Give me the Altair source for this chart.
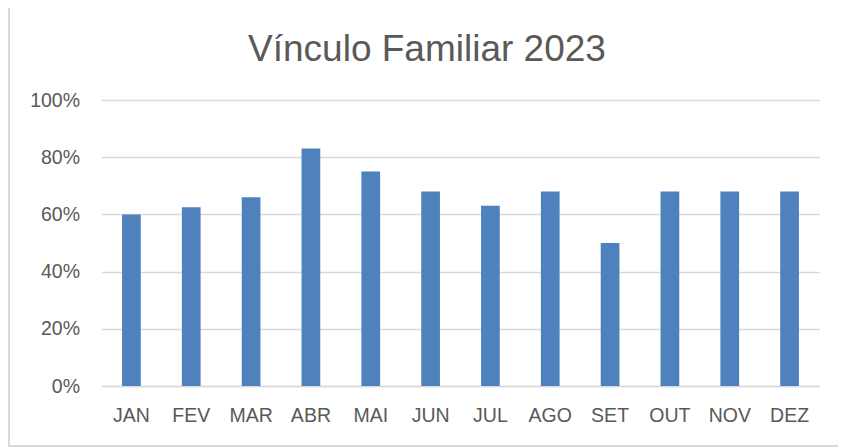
import altair as alt
import pandas as pd

titulo = "Vínculo Familiar 2023"
meses = ["JAN", "FEV", "MAR", "ABR", "MAI", "JUN", "JUL", "AGO", "SET", "OUT", "NOV", "DEZ"]
valores = [0.60, 0.625, 0.66, 0.83, 0.75, 0.68, 0.63, 0.68, 0.50, 0.68, 0.68, 0.68]
ticks_y = [0, 0.2, 0.4, 0.6, 0.8, 1.0]

df = pd.DataFrame({"mes": meses, "valor": valores})

FONT = "Liberation Sans"
GREY = "#595959"
GRID = "#d9d9d9"

bars = alt.Chart(df).mark_bar(color="#4F81BD").encode(
    x=alt.X(
        "mes:N",
        sort=meses,
        scale=alt.Scale(paddingInner=0.687, paddingOuter=0.3435),
        axis=alt.Axis(
            title=None, labelAngle=0, domainColor=GRID, domainWidth=1.5,
            ticks=False, labelFont=FONT, labelFontSize=19.5, labelColor=GREY,
            labelPadding=20,
        ),
    ),
    y=alt.Y(
        "valor:Q",
        scale=alt.Scale(domain=[0, 1]),
        axis=alt.Axis(
            title=None, format=".0%", values=ticks_y, domain=False, ticks=False,
            gridColor=GRID, gridWidth=1.5, labelFont=FONT, labelFontSize=19.5,
            labelColor=GREY, labelPadding=22,
        ),
    ),
)

title_df = pd.DataFrame({"t": [titulo]})
title = alt.Chart(title_df).mark_text(
    font=FONT, fontSize=37, color=GREY, align="center", baseline="alphabetic"
).encode(x=alt.value(325.5), y=alt.value(-39), text="t:N")

border_df = pd.DataFrame({"k": [1]})
left_border = alt.Chart(border_df).mark_rule(color=GRID, strokeWidth=2).encode(
    x=alt.value(-92.5), y=alt.value(-92), y2=alt.value(346)
)
bottom_border = alt.Chart(border_df).mark_rule(color=GRID, strokeWidth=2).encode(
    x=alt.value(-93.5), x2=alt.value(737), y=alt.value(346)
)

chart = alt.layer(bars, title, left_border, bottom_border).properties(
    width=718,
    height=286,
    autosize=alt.AutoSizeParams(type="none"),
    padding={"left": 93.5, "top": 92, "right": 18.5, "bottom": 62},
).configure_view(stroke=None)

chart.save("out.html", embed_options={"renderer": "svg", "actions": False})
